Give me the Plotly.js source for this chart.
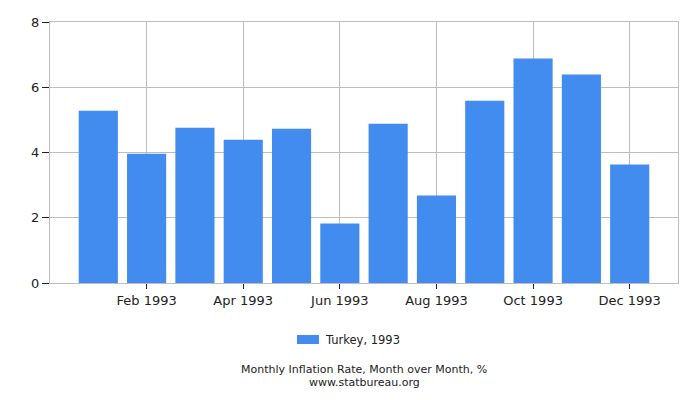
<!DOCTYPE html>
<html>
<head>
<meta charset="utf-8">
<script src="https://cdn.plot.ly/plotly-3.0.1.min.js"></script>
<style>html,body{margin:0;padding:0;background:#fff;}#chart{width:700px;height:400px;}</style>
</head>
<body>
<div id="chart"></div>
<script>
var months = ['Jan 1993','Feb 1993','Mar 1993','Apr 1993','May 1993','Jun 1993','Jul 1993','Aug 1993','Sep 1993','Oct 1993','Nov 1993','Dec 1993'];
var values = [5.28, 3.96, 4.76, 4.39, 4.73, 1.82, 4.88, 2.68, 5.59, 6.88, 6.39, 3.63];
var tickLabels = ['Feb 1993','Apr 1993','Jun 1993','Aug 1993','Oct 1993','Dec 1993'];
var seriesName = 'Turkey, 1993';
var chartTitle = 'Monthly Inflation Rate, Month over Month, %';
var siteName = 'www.statbureau.org';
var barColor = '#428bef';

var trace = {
  type: 'bar',
  x: months,
  y: values,
  name: seriesName,
  marker: {color: barColor},
  showlegend: false,
  hoverinfo: 'x+y'
};

var layout = {
  width: 700,
  height: 400,
  margin: {l: 50, r: 22, t: 22, b: 117},
  paper_bgcolor: '#fff',
  plot_bgcolor: '#fff',
  font: {family: 'DejaVu Sans, sans-serif', size: 13, color: '#222'},
  showlegend: false,
  bargap: 0.19,
  xaxis: {
    type: 'category',
    range: [-1, 12],
    tickvals: tickLabels,
    ticktext: tickLabels,
    ticks: 'outside',
    ticklen: 5,
    tickcolor: '#222',
    showgrid: true,
    gridcolor: '#bdbdbd',
    showline: true,
    linecolor: '#bdbdbd',
    mirror: true,
    zeroline: false
  },
  yaxis: {
    range: [0, 8],
    dtick: 2,
    ticks: 'outside',
    ticklen: 7,
    tickcolor: '#222',
    showgrid: true,
    gridcolor: '#bdbdbd',
    showline: true,
    linecolor: '#bdbdbd',
    mirror: true,
    zeroline: false
  },
  shapes: [
    {type: 'rect', xref: 'paper', yref: 'paper', x0: 0.3933, x1: 0.4283, y0: -0.2337, y1: -0.1992, fillcolor: barColor, line: {width: 0}}
  ],
  annotations: [
    {text: seriesName, xref: 'paper', yref: 'paper', x: 0.4347, y: -0.2184, xanchor: 'left', yanchor: 'middle', showarrow: false, font: {size: 11.5, color: '#222'}},
    {text: chartTitle, xref: 'paper', yref: 'paper', x: 0.5, y: -0.3314, xanchor: 'center', yanchor: 'middle', showarrow: false, borderpad: 0, font: {size: 11, color: '#222'}},
    {text: siteName, xref: 'paper', yref: 'paper', x: 0.5, y: -0.3831, xanchor: 'center', yanchor: 'middle', showarrow: false, borderpad: 0, font: {size: 11, color: '#222'}}
  ]
};

Plotly.newPlot('chart', [trace], layout, {displayModeBar: false, staticPlot: true});
</script>
</body>
</html>
